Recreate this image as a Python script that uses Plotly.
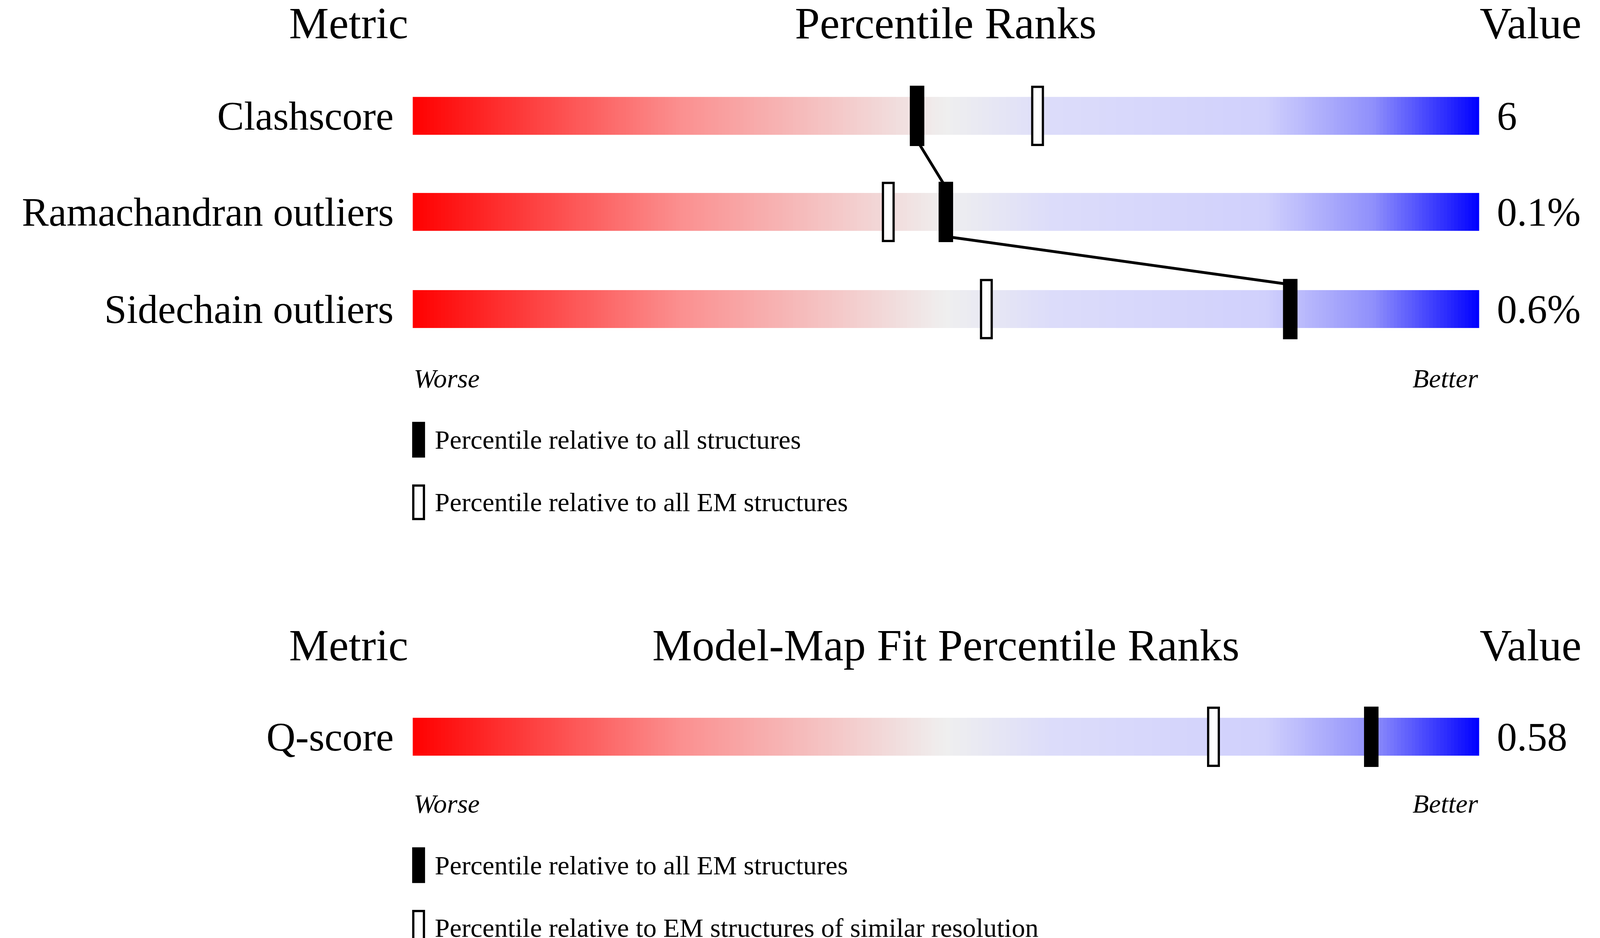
import numpy as np
import plotly.graph_objects as go

# ---- data ----
metrics_top = ["Clashscore", "Ramachandran outliers", "Sidechain outliers"]
values_top = ["6", "0.1%", "0.6%"]
pct_all_top = [47.3, 50.0, 82.3]        # black: relative to all structures
pct_em_top = [58.6, 44.6, 53.8]         # hollow: relative to all EM structures

metrics_bot = ["Q-score"]
values_bot = ["0.58"]
pct_all_bot = [89.9]                    # black: all EM structures
pct_sim_bot = [75.1]                    # hollow: EM structures of similar resolution

legend_top = ["Percentile relative to all structures", "Percentile relative to all EM structures"]
legend_bot = ["Percentile relative to all EM structures",
              "Percentile relative to EM structures of similar resolution"]

# ---- layout (picture is laid out in a 1568 x 840 reference grid) ----
W, H = 4485, 2402
S = W / 1568
FONT = "Liberation Serif"
rows_top_y = [101, 187, 274]
rows_bot_y = [657]
BAR_H = 17
MK_H = 26
MK_W = 1.15

colorscale = [[0, "#ff0000"], [0.25, "#fb8f8f"], [0.5, "#efefef"],
              [0.6, "#dcdcfa"], [0.8, "#d0d0fc"], [0.9, "#9090fb"], [1, "#0000ff"]]

fig = go.Figure()
edges = np.linspace(0, 100, 301)
mids = (edges[:-1] + edges[1:]) / 2


def bar(yc):
    fig.add_trace(go.Heatmap(x=edges, y=[yc - BAR_H, yc + BAR_H], z=[mids],
                             zmin=0, zmax=100,
                             colorscale=colorscale, showscale=False, hoverinfo="skip"))


def marker(p, yc, filled, w=MK_W, h=MK_H):
    fig.add_shape(type="rect", x0=p - w / 2, x1=p + w / 2, y0=yc - h, y1=yc + h,
                  fillcolor="black" if filled else "white",
                  line=dict(color="black", width=2 * S))


def text(x, y, s, size, anchor="center", italic=False):
    fig.add_annotation(x=x, y=y, text=f"<i>{s}</i>" if italic else s, showarrow=False,
                       xanchor=anchor, yanchor="middle",
                       font=dict(family=FONT, size=size * S, color="black"))


for yc, name, val, pa, pe in zip(rows_top_y, metrics_top, values_top, pct_all_top, pct_em_top):
    bar(yc)
    marker(pe, yc, False, w=1.0)
    marker(pa, yc, True)
    text(-1.7, yc, name, 36, "right")
    text(101.6, yc, val, 36, "left")

for yc, name, val, pa, ps in zip(rows_bot_y, metrics_bot, values_bot, pct_all_bot, pct_sim_bot):
    bar(yc)
    marker(ps, yc, False, w=1.0)
    marker(pa, yc, True)
    text(-1.7, yc, name, 36, "right")
    text(101.6, yc, val, 36, "left")

# connecting line between the black markers
lx = pct_all_top
ly = rows_top_y
for i in range(len(lx) - 1):
    fig.add_trace(go.Scatter(x=[lx[i], lx[i + 1]], y=[ly[i] + 22, ly[i + 1] - 22], mode="lines",
                             line=dict(color="black", width=2.5 * S), hoverinfo="skip",
                             showlegend=False))

# headers
for hy, title in [(18, "Percentile Ranks"), (575, "Model-Map Fit Percentile Ranks")]:
    text(-6.0, hy, "Metric", 40)
    text(50, hy, title, 40)
    text(100.0, hy, "Value", 40, "left")

# worse / better
for wy in [336, 717]:
    text(0, wy, "Worse", 24, "left", italic=True)
    text(100, wy, "Better", 24, "right", italic=True)

# legends
for ys, labels in [([391, 447], legend_top), ([772, 828], legend_bot)]:
    for k, (yy, lab) in enumerate(zip(ys, labels)):
        marker(0.55, yy, k == 0, w=1.0, h=15)
        text(2.0, yy, lab, 24, "left")

fig.update_layout(autosize=True, margin=dict(l=0, r=0, t=0, b=0),
                  plot_bgcolor="white", paper_bgcolor="white", showlegend=False,
                  xaxis=dict(range=[-403 / 1049 * 100, (1568 - 403) / 1049 * 100], visible=False),
                  yaxis=dict(range=[840, 0], visible=False))
fig.write_html("out.html", default_width="100%", default_height="100vh")
